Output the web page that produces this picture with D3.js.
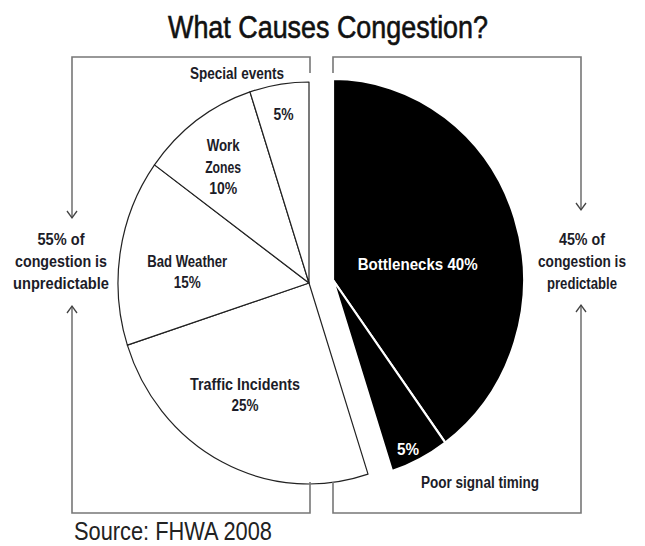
<!DOCTYPE html>
<html><head><meta charset="utf-8">
<script src="https://cdn.jsdelivr.net/npm/d3@7"></script>
<style>
html,body{margin:0;padding:0;background:#fff;}
svg{display:block;}
text{font-family:'Liberation Sans','Arimo',Arial,sans-serif;}
</style></head><body>
<svg id="c" width="645" height="546"></svg>
<script>
// ---- data ----
const categories = ["Bottlenecks", "Poor signal timing", "Traffic Incidents", "Bad Weather", "Work Zones", "Special events"];
const values = [40, 5, 25, 15, 10, 5];
const groups = ["predictable", "predictable", "unpredictable", "unpredictable", "unpredictable", "unpredictable"];
const labelLines = [["Bottlenecks 40%"], ["5%"], ["Traffic Incidents", "25%"], ["Bad Weather", "15%"], ["Work", "Zones", "10%"], ["5%"]];
const groupText = {
  unpredictable: ["55% of", "congestion is", "unpredictable"],
  predictable: ["45% of", "congestion is", "predictable"]
};
const title = "What Causes Congestion?";
const source = "Source: FHWA 2008";

// ---- layout (text widths emulate a condensed face) ----
const labelWidths = [[120], [22], [110, 27], [80, 27], [33, 36, 28], [20]];
const groupWidths = { unpredictable: [47, 92, 96], predictable: [46, 88, 70] };

const svg = d3.select("#c");
const RY = 201, RX = 191;
const centers = { predictable: [333, 280], unpredictable: [309, 283] };
const fills = { predictable: "#000", unpredictable: "#fff" };
const strokes = { predictable: "#fff", unpredictable: "#222" };
const labelK = [0.45, 0.93, 0.65, 0.64, 0.73, 0.85];
const labelShift = [8, 2, 4, -4, -2, 0];
const textCol = "#1c1c28";

function addText(x, y, str, w, size, weight, fill, anchor) {
  return svg.append("text").attr("x", x).attr("y", y)
    .attr("text-anchor", anchor || "middle")
    .attr("font-size", size).attr("font-weight", weight)
    .attr("fill", fill)
    .attr("textLength", w).attr("lengthAdjust", "spacingAndGlyphs")
    .text(str);
}

const pie = d3.pie().sort(null).value(d => d).startAngle(0).endAngle(2 * Math.PI);
const arcs = pie(values);
const arc = d3.arc().innerRadius(0).outerRadius(RY);

addText(328, 38, title, 320, 32, "normal", "#111")
  .attr("stroke", "#111").attr("stroke-width", 0.6);

// slices
const g = svg.append("g");
arcs.forEach((a, i) => {
  const grp = groups[i];
  const [cx, cy] = centers[grp];
  g.append("path")
    .attr("transform", `translate(${cx},${cy}) scale(${RX / RY},1)`)
    .attr("d", arc(a))
    .attr("fill", fills[grp])
    .attr("stroke", strokes[grp])
    .attr("stroke-width", grp === "predictable" ? 2.2 : 1.2)
    .attr("vector-effect", "non-scaling-stroke")
    .attr("stroke-linejoin", "round");
});

// slice labels
arcs.forEach((a, i) => {
  const grp = groups[i];
  const [cx, cy] = centers[grp];
  const mid = (a.startAngle + a.endAngle) / 2 + labelShift[i] * Math.PI / 180;
  const x = cx + labelK[i] * RX * Math.sin(mid);
  const y = cy - labelK[i] * RY * Math.cos(mid);
  const lines = labelLines[i];
  const lh = 21.5;
  lines.forEach((l, j) => {
    addText(x, y + (j - (lines.length - 1) / 2) * lh + 5.5, l, labelWidths[i][j],
      i === 0 ? 17 : 16, "bold", grp === "predictable" ? "#fff" : textCol);
  });
});

// outside labels
addText(237, 79, categories[5], 94, 16, "bold", textCol);
addText(480, 488, categories[1], 118, 16, "bold", textCol);

// brackets
const br = svg.append("g").attr("fill", "none").attr("stroke", "#777").attr("stroke-width", 1.6);
function bracket(xo, xTick, topTick, botTick, downTip, upTip) {
  br.append("path").attr("d", `M${xTick},${topTick} V57 H${xo} V${downTip}`);
  br.append("path").attr("d", `M${xo},${upTip} V513 H${xTick} V${botTick}`);
  const ah = 7, aw = 5;
  svg.append("path").attr("fill", "none").attr("stroke", "#444").attr("stroke-width", 1.3)
    .attr("d", `M${xo - aw},${downTip - ah} L${xo},${downTip} L${xo + aw},${downTip - ah}`);
  svg.append("path").attr("fill", "none").attr("stroke", "#444").attr("stroke-width", 1.3)
    .attr("d", `M${xo - aw},${upTip + ah} L${xo},${upTip} L${xo + aw},${upTip + ah}`);
}
bracket(72, 310, 73, 482, 218, 306);
bracket(581, 333, 73, 482, 210, 305);

// group texts
[["unpredictable", 61], ["predictable", 582]].forEach(([grp, x]) => {
  groupText[grp].forEach((l, j) => {
    addText(x, 245 + j * 22, l, groupWidths[grp][j], 17, "bold", textCol);
  });
});

addText(74, 540, source, 198, 26, "normal", "#222", "start");
</script>
</body></html>
